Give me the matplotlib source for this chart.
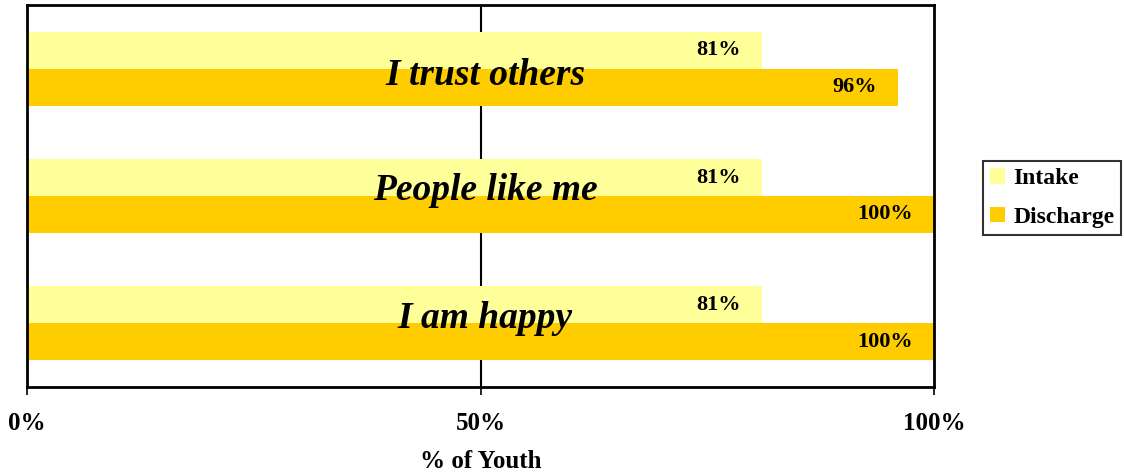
import numpy as np
import matplotlib.pyplot as plt

# data (bottom to top)
categories = ["I am happy", "People like me", "I trust others"]
intake = [0.81, 0.81, 0.81]
discharge = [1.00, 1.00, 0.96]
series_names = ["Intake", "Discharge"]
colors = ["#FFFF99", "#FFCC00"]
# baseline drop of each category caption below the bar split (axis units)
caption_drop = [0.035, 0.035, 0.13]

plt.rcParams['font.family'] = ['Liberation Serif', 'DejaVu Serif']
plt.rcParams['font.weight'] = 'bold'

fig = plt.figure(figsize=(11.24, 4.75), dpi=100)
ax = fig.add_axes([27/1124, 88/475, (934-27)/1124, (387-5)/475])

y = np.arange(len(categories))
h = 0.29
b1 = ax.barh(y + h/2, intake, height=h, color=colors[0], label=series_names[0])
b2 = ax.barh(y - h/2, discharge, height=h, color=colors[1], label=series_names[1])

for bars, vals in [(b1, intake), (b2, discharge)]:
    for rect, v in zip(bars, vals):
        ax.text(v - 0.023, rect.get_y() + rect.get_height()/2, f"{v:.0%}",
                ha="right", va="center", fontsize=16, fontweight="bold")

for yi, cat, d in zip(y, categories, caption_drop):
    ax.text(0.505, yi - d, cat, ha="center", va="baseline", fontsize=27,
            fontweight="bold", style="italic")

ax.set_xlim(0, 1)
ax.set_ylim(-0.5, 2.5)
ax.set_xticks([0, 0.5, 1])
ax.set_xticklabels(["0%", "50%", "100%"], fontsize=18, fontweight="bold")
ax.set_yticks([])
ax.tick_params(axis="x", direction="out", length=6, width=1.2, pad=12)
ax.axvline(0.5, color="black", lw=1.5, zorder=0)
for s in ax.spines.values():
    s.set_linewidth(2)
ax.set_xlabel("% of Youth", fontsize=18, fontweight="bold", labelpad=11)

leg = fig.legend(handles=[b1, b2], loc="center left", bbox_to_anchor=(983/1124, 1 - 198/475),
                 fontsize=17, frameon=True, fancybox=False, edgecolor="black",
                 handlelength=0.63, handleheight=0.63, handletextpad=0.35, borderpad=0.3,
                 labelspacing=0.75, borderaxespad=0)
leg.get_frame().set_linewidth(1.5)

fig.savefig("out.png", dpi=100)
